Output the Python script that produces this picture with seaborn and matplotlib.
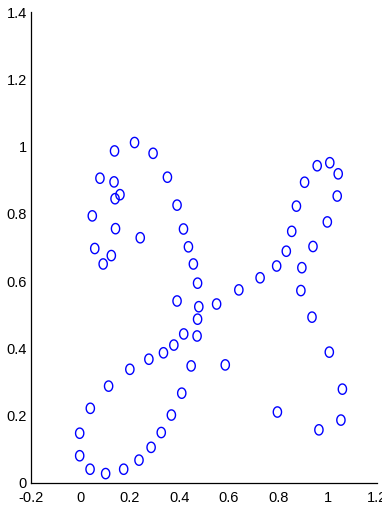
import numpy as np
import seaborn as sns
import matplotlib.pyplot as plt
from matplotlib.path import Path

# points (figure-eight shaped cloud)
x_vals = [0.138, 0.219, 0.294, 0.079, 0.136, 0.352, 0.160, 0.140, 0.391, 0.048,
          0.142, 0.417, 0.242, 0.058, 0.437, 0.125, 0.092, 0.457, 0.474, 0.391,
          0.479, 0.474, 0.418, 0.472, 0.378, 0.336, 0.277, 0.448, 0.200, 0.410,
          0.114, 0.040, 0.368, -0.003, 0.327, -0.003, 0.286, 0.237, 0.039, 0.175,
          0.102, 0.958, 1.009, 1.043, 0.907, 1.039, 0.874, 0.999, 0.855, 0.833,
          0.941, 0.794, 0.896, 0.727, 0.641, 0.892, 0.551, 0.937, 1.007, 0.586,
          1.060, 0.797, 1.054, 0.965]
y_vals = [0.987, 1.012, 0.980, 0.906, 0.895, 0.909, 0.857, 0.845, 0.826, 0.794,
          0.756, 0.755, 0.729, 0.697, 0.702, 0.676, 0.651, 0.651, 0.594, 0.541,
          0.524, 0.487, 0.443, 0.437, 0.410, 0.387, 0.368, 0.348, 0.338, 0.267,
          0.288, 0.222, 0.202, 0.148, 0.150, 0.081, 0.106, 0.068, 0.041, 0.041,
          0.028, 0.943, 0.952, 0.919, 0.894, 0.853, 0.823, 0.776, 0.748, 0.689,
          0.703, 0.645, 0.640, 0.610, 0.574, 0.572, 0.532, 0.493, 0.389, 0.351,
          0.279, 0.211, 0.187, 0.158]

x_ticks = [-0.2, 0, 0.2, 0.4, 0.6, 0.8, 1, 1.2]
x_labels = ["-0.2", "0", "0.2", "0.4", "0.6", "0.8", "1", "1.2"]
y_ticks = [0, 0.2, 0.4, 0.6, 0.8, 1, 1.2, 1.4]
y_labels = ["0", "0.2", "0.4", "0.6", "0.8", "1", "1.2", "1.4"]

sns.set_style("white")
plt.rcParams['font.family'] = ['Liberation Sans Narrow', 'Liberation Sans', 'DejaVu Sans']

# slightly tall circle, like the stretched reference
t = np.linspace(0, 2 * np.pi, 60)
oval = Path(np.column_stack([0.8 * np.cos(t), np.sin(t)]), closed=True)

fig = plt.figure(figsize=(3.82, 5.12), dpi=100)
ax = fig.add_axes([31 / 382, 1 - 483 / 512, 346 / 382, 471 / 512])

sns.scatterplot(x=x_vals, y=y_vals, marker=oval, s=55, facecolor="none",
                edgecolor="#0000ff", linewidth=1.0, ax=ax)

ax.set_xlim(-0.2, 1.2)
ax.set_ylim(0, 1.4)
ax.set_xticks(x_ticks)
ax.set_xticklabels(x_labels)
ax.set_yticks(y_ticks)
ax.set_yticklabels(y_labels)
ax.tick_params(axis="both", direction="in", length=3.5, width=0.8, colors="black",
               labelsize=10.5)
ax.tick_params(axis="x", pad=5.5)
ax.tick_params(axis="y", pad=3)
for side in ["top", "right"]:
    ax.spines[side].set_visible(False)
for side in ["left", "bottom"]:
    ax.spines[side].set_color("black")
    ax.spines[side].set_linewidth(0.9)

fig.savefig("out.png", dpi=100)
